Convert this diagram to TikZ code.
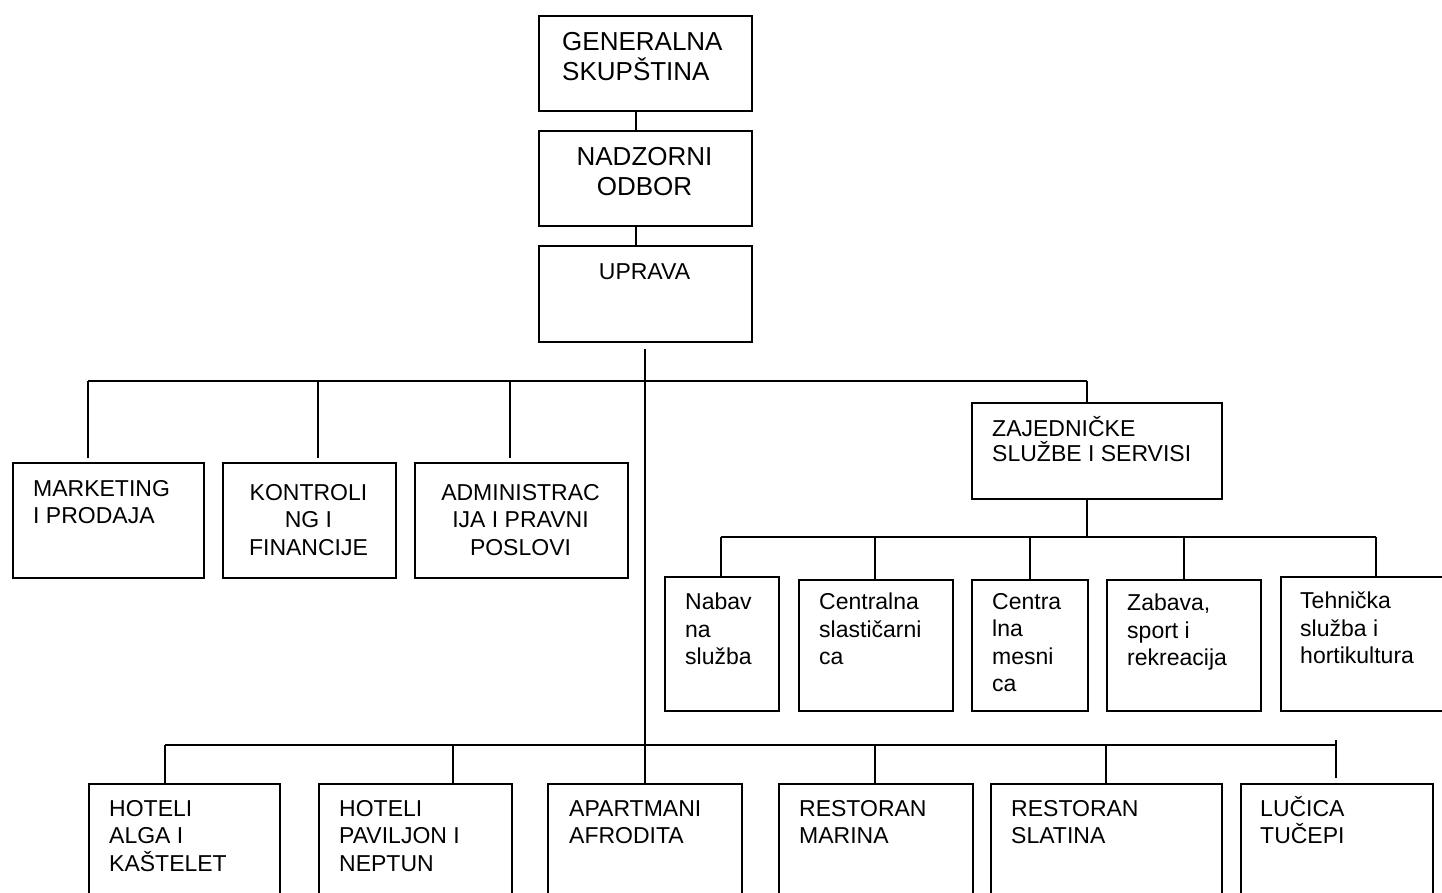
\documentclass[tikz,border=0pt]{standalone}
\usepackage{fontspec}
\setmainfont{Liberation Sans}
\begin{document}
\begin{tikzpicture}[x=1pt,y=1pt,yscale=-1,xscale=1,
  box/.style={draw,line width=1.5pt,anchor=north west,inner sep=0pt},
  txt/.style={anchor=north west,align=left,inner sep=0pt,font=\fontsize{23}{27.5}\selectfont},
  txtc/.style={txt,anchor=north,align=center},
  txtbig/.style={font=\fontsize{26}{30}\selectfont}]
\useasboundingbox (0,0) rectangle (1442,892);

%Shape: Rectangle [top of the chart]
\node[box,minimum width=213,minimum height=95] (gs) at (538,15) {};
\node[box,minimum width=213,minimum height=95] (no) at (538,130) {};
\node[box,minimum width=213,minimum height=96] (up) at (538,245) {};
%Shape: Rectangle [first level]
\node[box,minimum width=191,minimum height=115] (mkt) at (12,462) {};
\node[box,minimum width=173,minimum height=115] (kon) at (222,462) {};
\node[box,minimum width=213,minimum height=115] (adm) at (414,462) {};
\node[box,minimum width=250,minimum height=96] (zs) at (971,402) {};
%Shape: Rectangle [services]
\node[box,minimum width=114,minimum height=134] (nb) at (664,576) {};
\node[box,minimum width=154,minimum height=131] (cs) at (798,579) {};
\node[box,minimum width=116,minimum height=131] (cm) at (971,579) {};
\node[box,minimum width=154,minimum height=131] (zb) at (1106,579) {};
\node[box,minimum width=192,minimum height=134] (th) at (1280,576) {};
%Shape: Rectangle [hotels and restaurants]
\node[box,minimum width=191,minimum height=140] (hA) at (88,783) {};
\node[box,minimum width=193,minimum height=140] (hP) at (318,783) {};
\node[box,minimum width=194,minimum height=140] (ap) at (547,783) {};
\node[box,minimum width=194,minimum height=140] (rm) at (778,783) {};
\node[box,minimum width=231,minimum height=140] (rs) at (990,783) {};
\node[box,minimum width=192,minimum height=140] (lu) at (1240,783) {};

%Text
\node[txt,txtbig] (gsT) at (562,32) {GENERALNA\\SKUPŠTINA};
\node[txtc,txtbig] (noT) at (644.5,147) {NADZORNI\\ODBOR};
\node[txtc] (upT) at (644.5,263) {UPRAVA};
\node[txt] (mktT) at (33,480) {MARKETING\\I PRODAJA};
\node[txtc] (konT) at (308.5,484) {KONTROLI\\NG I\\FINANCIJE};
\node[txtc] (admT) at (520.5,484) {ADMINISTRAC\\IJA I PRAVNI\\POSLOVI};
\node[txt,font=\fontsize{23}{25.5}\selectfont] (zsT) at (992,416) {ZAJEDNIČKE\\SLUŽBE I SERVISI};
\node[txt] (nbT) at (685,593) {Nabav\\na\\služba};
\node[txt] (csT) at (819,593) {Centralna\\slastičarni\\ca};
\node[txt] (cmT) at (992,593) {Centra\\lna\\mesni\\ca};
\node[txt] (zbT) at (1127,594) {Zabava,\\sport i\\rekreacija};
\node[txt] (thT) at (1300,592) {Tehnička\\služba i\\hortikultura};
\node[txt] (hAT) at (109,800) {HOTELI\\ALGA I\\KAŠTELET};
\node[txt] (hPT) at (339,800) {HOTELI\\PAVILJON I\\NEPTUN};
\node[txt] (apT) at (569,800) {APARTMANI\\AFRODITA};
\node[txt] (rmT) at (799,800) {RESTORAN\\MARINA};
\node[txt] (rsT) at (1011,800) {RESTORAN\\SLATINA};
\node[txt] (luT) at (1260,796) {LUČICA\\TUČEPI};

%Coordinates on the lines
\coordinate (spine) at (636,0);
\coordinate (mktD) at (88,381);
\coordinate (konD) at (318,381);
\coordinate (admD) at (510,381);
\coordinate (zsD) at (1087,381);
\coordinate (nbD) at (721,537);
\coordinate (csD) at (875,537);
\coordinate (cmD) at (1030,537);
\coordinate (zbD) at (1184,537);
\coordinate (thD) at (1376,537);
\coordinate (hAD) at (165,745);
\coordinate (hPD) at (453,745);
\coordinate (apD) at (645,745);
\coordinate (rmD) at (875,745);
\coordinate (rsD) at (1106,745);
\coordinate (luD) at (1336,745);

%Straight Lines
\draw[line width=1.5pt] (gs.south -| spine) -- (no.north -| spine);
\draw[line width=1.5pt] (no.south -| spine) -- (up.north -| spine);
\draw[line width=1.5pt,shorten <=6pt] (apD |- up.south) -- (apD |- ap.north);
%Straight Lines [first level]
\draw[line width=1.5pt] (mktD) -- (zsD);
\draw[line width=1.5pt,shorten >=4pt] (mktD) -- (mktD |- mkt.north);
\draw[line width=1.5pt,shorten >=4pt] (konD) -- (konD |- kon.north);
\draw[line width=1.5pt,shorten >=4pt] (admD) -- (admD |- adm.north);
\draw[line width=1.5pt] (zsD) -- (zsD |- zs.north);
%Straight Lines [services]
\draw[line width=1.5pt] (zs.south -| zsD) -- (zsD |- nbD);
\draw[line width=1.5pt] (nbD) -- (thD);
\draw[line width=1.5pt] (nbD) -- (nbD |- nb.north);
\draw[line width=1.5pt] (csD) -- (csD |- cs.north);
\draw[line width=1.5pt] (cmD) -- (cmD |- cm.north);
\draw[line width=1.5pt] (zbD) -- (zbD |- zb.north);
\draw[line width=1.5pt] (thD) -- (thD |- th.north);
%Straight Lines [hotels and restaurants]
\draw[line width=1.5pt] (hAD) -- (luD);
\draw[line width=1.5pt] (hAD) -- (hAD |- hA.north);
\draw[line width=1.5pt] (hPD) -- (hPD |- hP.north);
\draw[line width=1.5pt] (rmD) -- (rmD |- rm.north);
\draw[line width=1.5pt] (rsD) -- (rsD |- rs.north);
\draw[line width=1.5pt,shorten <=-5pt,shorten >=5pt] (luD) -- (luD |- lu.north);

\end{tikzpicture}
\end{document}
